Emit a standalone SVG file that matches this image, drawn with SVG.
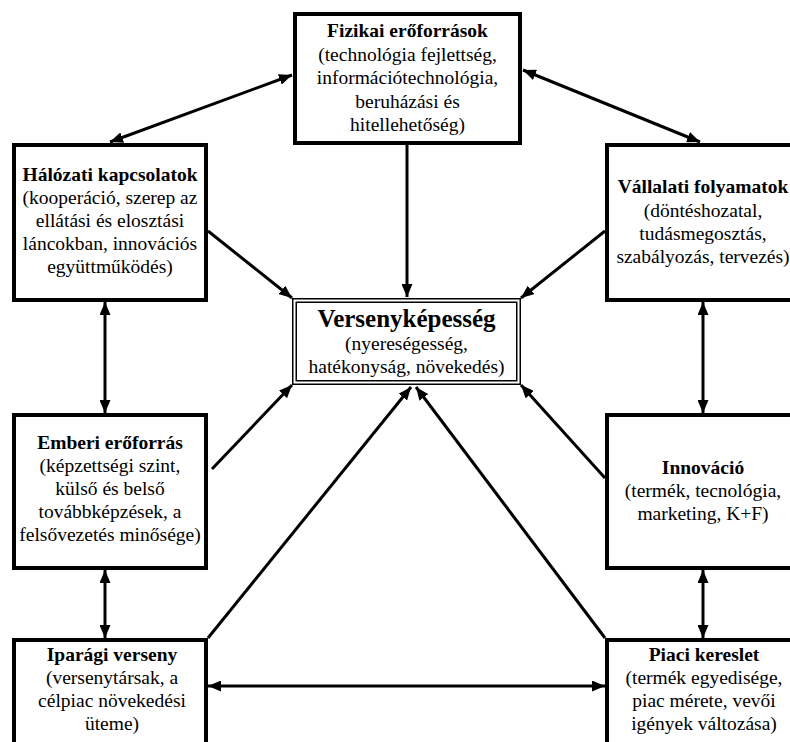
<svg xmlns="http://www.w3.org/2000/svg" width="790" height="742" viewBox="0 0 790 742">
  <style>
    .box { fill: #fff; stroke: #000; stroke-width: 4; }
    .dbl { fill: none; stroke: #000; stroke-width: 1.5; }
    text { font-family: "Liberation Serif", "Times New Roman", serif; font-size: 19.5px; fill: #000; text-anchor: middle; }
    .t { font-weight: bold; }
    .big { font-weight: bold; font-size: 25px; }
    .c { stroke: #000; stroke-width: 3; fill: none; }
    .one { marker-end: url(#ah); }
    .two { marker-start: url(#ah); marker-end: url(#ah); }
  </style>
  <defs>
    <marker id="ah" markerUnits="userSpaceOnUse" markerWidth="13" markerHeight="11" refX="13" refY="5.5" orient="auto-start-reverse">
      <path d="M0,0 L13,5.5 L0,11 z" fill="#000"/>
    </marker>
  </defs>
  <rect width="790" height="742" fill="#fff"/>

  <g id="connectors">
    <line class="c two" x1="292" y1="75" x2="110" y2="142"/>
    <line class="c two" x1="523" y1="70" x2="700" y2="142"/>
    <line class="c one" x1="407" y1="145" x2="407" y2="297"/>
    <line class="c one" x1="208" y1="231" x2="292" y2="298"/>
    <line class="c one" x1="605" y1="231" x2="521" y2="298"/>
    <line class="c one" x1="212" y1="469" x2="292" y2="385"/>
    <line class="c one" x1="605" y1="478" x2="521" y2="385"/>
    <line class="c one" x1="208" y1="638" x2="411" y2="387"/>
    <line class="c one" x1="605" y1="638" x2="416" y2="387"/>
    <line class="c two" x1="105" y1="302" x2="105" y2="413"/>
    <line class="c two" x1="703" y1="302" x2="703" y2="413"/>
    <line class="c two" x1="105" y1="570" x2="105" y2="638"/>
    <line class="c two" x1="703" y1="570" x2="703" y2="638"/>
    <line class="c two" x1="208" y1="686" x2="605" y2="686"/>
  </g>

  <g id="fizikai">
    <rect class="box" x="295" y="14" width="225" height="129"/>
    <text class="t" x="407.5" y="37">Fizikai erőforrások</text>
    <text x="407.5" y="61">(technológia fejlettség,</text>
    <text x="407.5" y="84">információtechnológia,</text>
    <text x="407.5" y="108">beruházási és</text>
    <text x="407.5" y="131">hitellehetőség)</text>
  </g>

  <g id="halozati">
    <rect class="box" x="14" y="145" width="192" height="155"/>
    <text class="t" x="110" y="181">Hálózati kapcsolatok</text>
    <text x="110" y="204">(kooperáció, szerep az</text>
    <text x="110" y="227">ellátási és elosztási</text>
    <text x="110" y="250">láncokban, innovációs</text>
    <text x="110" y="273">együttműködés)</text>
  </g>

  <g id="vallalati">
    <rect class="box" x="607" y="145" width="200" height="155"/>
    <text class="t" x="703" y="193">Vállalati folyamatok</text>
    <text x="703" y="217">(döntéshozatal,</text>
    <text x="703" y="240">tudásmegosztás,</text>
    <text x="703" y="263">szabályozás, tervezés)</text>
  </g>

  <g id="versenykepesseg">
    <rect x="292" y="298" width="229" height="87" fill="#fff"/>
    <rect class="dbl" x="292.75" y="298.75" width="227.5" height="85.5"/>
    <rect class="dbl" x="296.25" y="302.25" width="220.5" height="78.5"/>
    <text class="big" x="406.5" y="327">Versenyképesség</text>
    <text x="406.5" y="350">(nyereségesség,</text>
    <text x="406.5" y="373">hatékonyság, növekedés)</text>
  </g>

  <g id="emberi">
    <rect class="box" x="14" y="415" width="192" height="153"/>
    <text class="t" x="110" y="449">Emberi erőforrás</text>
    <text x="110" y="472">(képzettségi szint,</text>
    <text x="110" y="495">külső és belső</text>
    <text x="110" y="518">továbbképzések, a</text>
    <text x="110" y="541">felsővezetés minősége)</text>
  </g>

  <g id="innovacio">
    <rect class="box" x="607" y="415" width="200" height="153"/>
    <text class="t" x="703" y="474">Innováció</text>
    <text x="703" y="497">(termék, tecnológia,</text>
    <text x="703" y="520">marketing, K+F)</text>
  </g>

  <g id="iparagi">
    <rect class="box" x="14" y="640" width="192" height="130"/>
    <text class="t" x="112" y="661">Iparági verseny</text>
    <text x="112" y="684">(versenytársak, a</text>
    <text x="112" y="707">célpiac növekedési</text>
    <text x="112" y="730">üteme)</text>
  </g>

  <g id="piaci">
    <rect class="box" x="607" y="640" width="200" height="130"/>
    <text class="t" x="704" y="661">Piaci kereslet</text>
    <text x="704" y="684">(termék egyedisége,</text>
    <text x="704" y="707">piac mérete, vevői</text>
    <text x="704" y="730">igények változása)</text>
  </g>
</svg>
